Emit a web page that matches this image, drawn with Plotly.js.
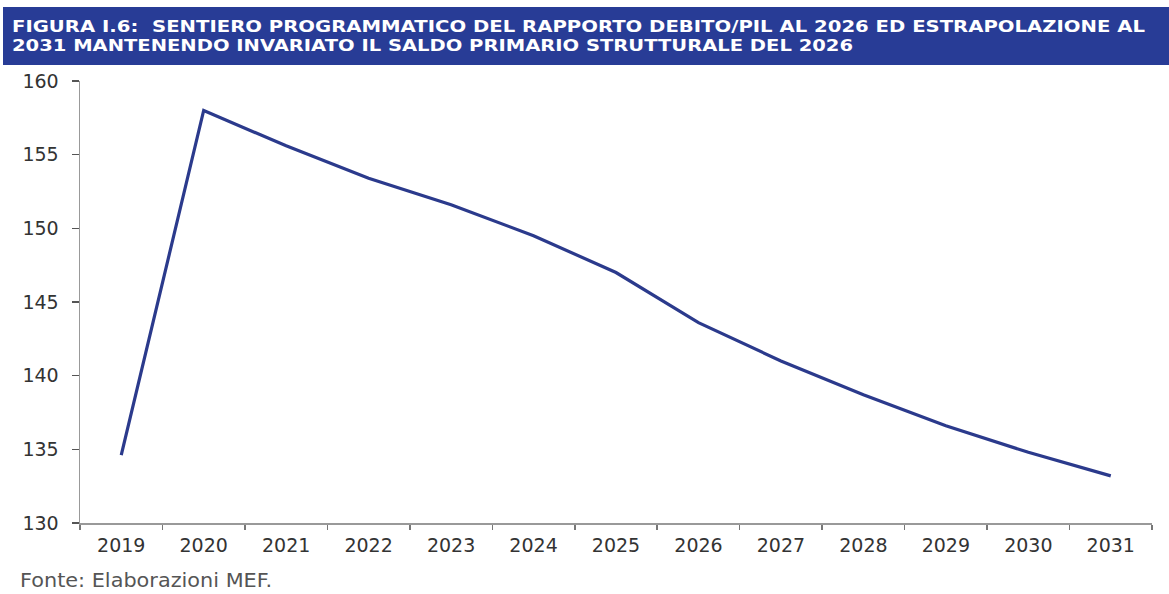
<!DOCTYPE html>
<html>
<head>
<meta charset="utf-8">
<script src="https://cdn.plot.ly/plotly-3.0.1.min.js"></script>
<style>
  html, body { margin: 0; padding: 0; background: #ffffff; }
  #chart { width: 1169px; height: 594px; }
</style>
</head>
<body>
<div id="chart"></div>
<script>
// Data
const years = ['2019','2020','2021','2022','2023','2024','2025','2026','2027','2028','2029','2030','2031'];
const debtRatio = [134.6, 158.0, 155.6, 153.4, 151.6, 149.5, 147.0, 143.6, 141.0, 138.7, 136.6, 134.8, 133.2];
const yTicks = [130, 135, 140, 145, 150, 155, 160];
const titleLine1 = 'FIGURA I.6:  SENTIERO PROGRAMMATICO DEL RAPPORTO DEBITO/PIL AL 2026 ED ESTRAPOLAZIONE AL';
const titleLine2 = '2031 MANTENENDO INVARIATO IL SALDO PRIMARIO STRUTTURALE DEL 2026';
const sourceNote = 'Fonte: Elaborazioni MEF.';

// Layout geometry (pixels)
const W = 1169, H = 594;
const M = { l: 80, r: 17, t: 81, b: 71 };
const PW = W - M.l - M.r, PH = H - M.t - M.b;
const px = x => (x - M.l) / PW;
const py = y => (H - M.b - y) / PH;

const FONT = 'DejaVu Sans, Liberation Sans, Arial, sans-serif';

const trace = {
  x: years,
  y: debtRatio,
  type: 'scatter',
  mode: 'lines',
  line: { color: '#2b3a8c', width: 3.2 },
  hoverinfo: 'x+y'
};

const layout = {
  width: W,
  height: H,
  margin: M,
  paper_bgcolor: '#ffffff',
  plot_bgcolor: '#ffffff',
  showlegend: false,
  font: { family: FONT, color: '#333333', size: 19 },
  xaxis: {
    type: 'category',
    range: [-0.5, years.length - 0.5],
    tickson: 'boundaries',
    ticks: 'outside',
    ticklen: 5,
    tickwidth: 1.5,
    tickcolor: '#777777',
    ticklabelstandoff: 5,
    showline: true,
    linecolor: '#999999',
    linewidth: 1.5,
    showgrid: false,
    zeroline: false,
    tickfont: { family: FONT, size: 19, color: '#333333' },
    fixedrange: true
  },
  yaxis: {
    range: [130, 160],
    tickvals: yTicks,
    ticktext: yTicks.map(String),
    ticks: 'outside',
    ticklen: 7,
    tickwidth: 1.5,
    tickcolor: '#555555',
    ticklabelstandoff: 9,
    showline: true,
    linecolor: '#999999',
    linewidth: 1.5,
    showgrid: false,
    zeroline: false,
    tickfont: { family: FONT, size: 19, color: '#333333' },
    fixedrange: true
  },
  shapes: [
    {
      type: 'rect', xref: 'paper', yref: 'paper',
      x0: px(3), x1: px(1169), y0: py(65), y1: py(7),
      fillcolor: '#283c96', line: { width: 0 }, layer: 'below'
    }
  ],
  annotations: [
    {
      text: '<b>' + titleLine1 + '</b>', xref: 'paper', yref: 'paper',
      x: px(10), y: py(27), xanchor: 'left', yanchor: 'middle', align: 'left', showarrow: false,
      font: { family: FONT, size: 15, color: '#ffffff' }
    },
    {
      text: '<b>' + titleLine2 + '</b>', xref: 'paper', yref: 'paper',
      x: px(10), y: py(46), xanchor: 'left', yanchor: 'middle', align: 'left', showarrow: false,
      font: { family: FONT, size: 15, color: '#ffffff' }
    },
    {
      text: sourceNote, xref: 'paper', yref: 'paper',
      x: px(18), y: py(580), xanchor: 'left', yanchor: 'middle', align: 'left', showarrow: false,
      font: { family: FONT, size: 19, color: '#555555' }
    }
  ]
};

// Target rendered widths (px) of the header/source texts, to match the reference's wide lettering
const textWidths = [1133, 841, 252];

Plotly.newPlot('chart', [trace], layout, { displayModeBar: false, staticPlot: true }).then(gd => {
  const texts = gd.querySelectorAll('.annotation-text');
  texts.forEach((t, i) => {
    if (textWidths[i]) {
      t.setAttribute('textLength', textWidths[i]);
      t.setAttribute('lengthAdjust', 'spacingAndGlyphs');
    }
  });
});
</script>
</body>
</html>
